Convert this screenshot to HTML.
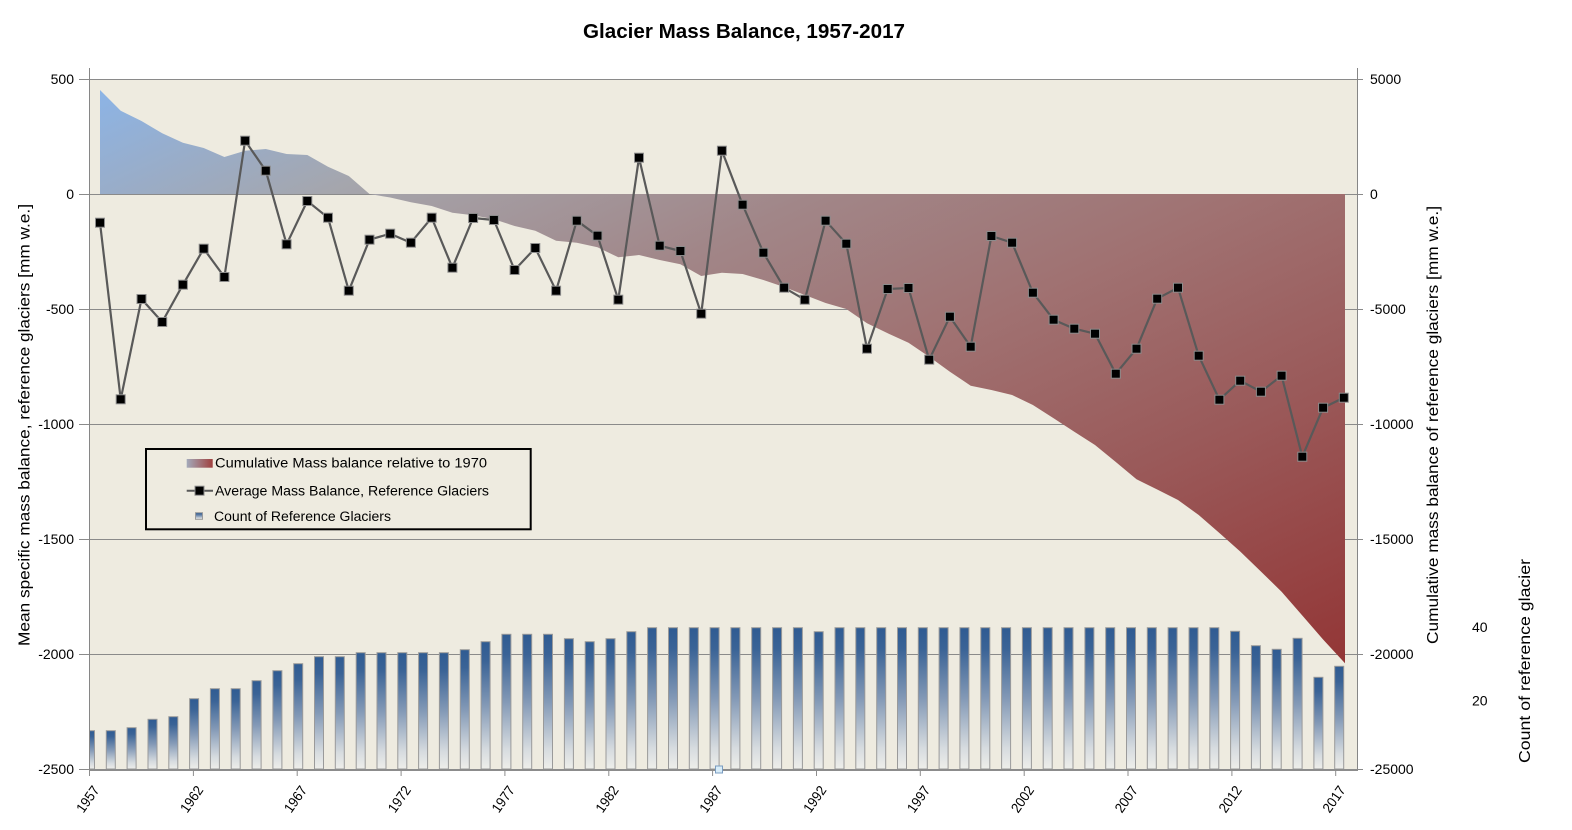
<!DOCTYPE html>
<html><head><meta charset="utf-8"><style>
html,body{margin:0;padding:0;background:#fff;}
svg{display:block;font-family:"Liberation Sans",sans-serif;}
</style></head><body>
<svg width="1572" height="830" viewBox="0 0 1572 830" xmlns="http://www.w3.org/2000/svg">
<defs>
<linearGradient id="ag" x1="0" y1="0" x2="1" y2="1">
<stop offset="0" stop-color="#8CB4E6"/>
<stop offset="0.18" stop-color="#A5A6AD"/>
<stop offset="0.38" stop-color="#A18688"/>
<stop offset="0.55" stop-color="#A07272"/>
<stop offset="0.75" stop-color="#9A5959"/>
<stop offset="1" stop-color="#933636"/>
</linearGradient>
<linearGradient id="bg" x1="0" y1="0" x2="0" y2="1">
<stop offset="0" stop-color="#2F5B92"/>
<stop offset="0.15" stop-color="#3A6396"/>
<stop offset="0.5" stop-color="#8399B6"/>
<stop offset="0.85" stop-color="#D6DBDF"/>
<stop offset="1" stop-color="#EEEEEA"/>
</linearGradient>
<linearGradient id="lg1" x1="0" y1="0" x2="1" y2="0">
<stop offset="0" stop-color="#A3AABB"/>
<stop offset="1" stop-color="#A0403E"/>
</linearGradient>
<clipPath id="pc"><rect x="89" y="68" width="1268" height="702"/></clipPath>
</defs>

<rect x="89" y="79" width="1268" height="690" fill="#EEEBE0"/>

<g stroke="#8A8A8A" stroke-width="1">
<line x1="79" y1="79.5" x2="1363" y2="79.5"/>
<line x1="79" y1="194.5" x2="1363" y2="194.5"/>
<line x1="79" y1="309.5" x2="1363" y2="309.5"/>
<line x1="79" y1="424.5" x2="1363" y2="424.5"/>
<line x1="79" y1="539.5" x2="1363" y2="539.5"/>
<line x1="79" y1="654.5" x2="1363" y2="654.5"/>
<line x1="79" y1="769.5" x2="89" y2="769.5"/>
<line x1="1357" y1="769.5" x2="1363" y2="769.5"/>
</g>

<g clip-path="url(#pc)" fill="url(#bg)" stroke="#9A9A9A" stroke-width="1">
<rect x="85.5" y="730.7" width="9" height="38.3"/>
<rect x="106.3" y="730.7" width="9" height="38.3"/>
<rect x="127.1" y="727.7" width="9" height="41.3"/>
<rect x="148.0" y="719.3" width="9" height="49.7"/>
<rect x="168.8" y="716.7" width="9" height="52.3"/>
<rect x="189.6" y="698.7" width="9" height="70.3"/>
<rect x="210.4" y="688.7" width="9" height="80.3"/>
<rect x="231.2" y="688.7" width="9" height="80.3"/>
<rect x="252.1" y="680.7" width="9" height="88.3"/>
<rect x="272.9" y="670.7" width="9" height="98.3"/>
<rect x="293.7" y="663.7" width="9" height="105.3"/>
<rect x="314.5" y="656.7" width="9" height="112.3"/>
<rect x="335.3" y="656.7" width="9" height="112.3"/>
<rect x="356.2" y="652.7" width="9" height="116.3"/>
<rect x="377.0" y="652.7" width="9" height="116.3"/>
<rect x="397.8" y="652.7" width="9" height="116.3"/>
<rect x="418.6" y="652.7" width="9" height="116.3"/>
<rect x="439.4" y="652.7" width="9" height="116.3"/>
<rect x="460.3" y="649.7" width="9" height="119.3"/>
<rect x="481.1" y="641.7" width="9" height="127.3"/>
<rect x="501.9" y="634.3" width="9" height="134.7"/>
<rect x="522.7" y="634.3" width="9" height="134.7"/>
<rect x="543.5" y="634.3" width="9" height="134.7"/>
<rect x="564.4" y="638.7" width="9" height="130.3"/>
<rect x="585.2" y="641.7" width="9" height="127.3"/>
<rect x="606.0" y="638.7" width="9" height="130.3"/>
<rect x="626.8" y="631.7" width="9" height="137.3"/>
<rect x="647.6" y="627.7" width="9" height="141.3"/>
<rect x="668.5" y="627.7" width="9" height="141.3"/>
<rect x="689.3" y="627.7" width="9" height="141.3"/>
<rect x="710.1" y="627.7" width="9" height="141.3"/>
<rect x="730.9" y="627.7" width="9" height="141.3"/>
<rect x="751.7" y="627.7" width="9" height="141.3"/>
<rect x="772.6" y="627.7" width="9" height="141.3"/>
<rect x="793.4" y="627.7" width="9" height="141.3"/>
<rect x="814.2" y="631.7" width="9" height="137.3"/>
<rect x="835.0" y="627.7" width="9" height="141.3"/>
<rect x="855.8" y="627.7" width="9" height="141.3"/>
<rect x="876.7" y="627.7" width="9" height="141.3"/>
<rect x="897.5" y="627.7" width="9" height="141.3"/>
<rect x="918.3" y="627.7" width="9" height="141.3"/>
<rect x="939.1" y="627.7" width="9" height="141.3"/>
<rect x="959.9" y="627.7" width="9" height="141.3"/>
<rect x="980.8" y="627.7" width="9" height="141.3"/>
<rect x="1001.6" y="627.7" width="9" height="141.3"/>
<rect x="1022.4" y="627.7" width="9" height="141.3"/>
<rect x="1043.2" y="627.7" width="9" height="141.3"/>
<rect x="1064.0" y="627.7" width="9" height="141.3"/>
<rect x="1084.9" y="627.7" width="9" height="141.3"/>
<rect x="1105.7" y="627.7" width="9" height="141.3"/>
<rect x="1126.5" y="627.7" width="9" height="141.3"/>
<rect x="1147.3" y="627.7" width="9" height="141.3"/>
<rect x="1168.1" y="627.7" width="9" height="141.3"/>
<rect x="1189.0" y="627.7" width="9" height="141.3"/>
<rect x="1209.8" y="627.7" width="9" height="141.3"/>
<rect x="1230.6" y="631.3" width="9" height="137.7"/>
<rect x="1251.4" y="645.7" width="9" height="123.3"/>
<rect x="1272.2" y="649.3" width="9" height="119.7"/>
<rect x="1293.1" y="638.3" width="9" height="130.7"/>
<rect x="1313.9" y="677.3" width="9" height="91.7"/>
<rect x="1334.7" y="666.3" width="9" height="102.7"/>
</g>

<polygon fill="url(#ag)" points="100,194 100,90 120.7,110.7 141.5,121 162.2,133.3 182.9,142.7 203.7,148 224.4,157 245.1,150.7 265.8,149 286.6,154 307.3,155 328,166.7 348.8,176 369.5,194 390.2,197.5 410.9,202.3 431.7,206 452.4,212.7 473.1,215.3 493.9,219.3 514.6,226 535.3,230.7 556.1,240.7 576.8,242.7 597.5,247.3 618.3,257.3 639,255 659.7,260 680.4,264.3 701.2,276 721.9,272.7 742.6,274 763.4,280 784.1,287 804.8,295 825.6,303 846.3,309 867,323.3 887.7,333.3 908.5,342.7 929.2,356.7 949.9,371.7 970.7,385.7 991.4,390 1012.1,395 1032.9,405 1053.6,418.3 1074.3,431.7 1095,445 1115.8,462 1136.5,479.3 1157.2,489.5 1178,500 1198.7,515 1219.4,533 1240.2,551.5 1260.9,571.5 1281.6,591.7 1302.3,615.5 1323.1,639.5 1345,663.3 1345,194"/>

<g stroke="#868686" stroke-width="1">
<line x1="89.5" y1="68" x2="89.5" y2="770"/>
<line x1="1357.5" y1="68" x2="1357.5" y2="770"/>
</g>
<line x1="89" y1="770" x2="1358" y2="770" stroke="#8C8C8C" stroke-width="2"/>
<g stroke="#8C8C8C" stroke-width="1">
<line x1="89.5" y1="770" x2="89.5" y2="776"/>
<line x1="193.4" y1="770" x2="193.4" y2="776"/>
<line x1="297.2" y1="770" x2="297.2" y2="776"/>
<line x1="401.1" y1="770" x2="401.1" y2="776"/>
<line x1="504.9" y1="770" x2="504.9" y2="776"/>
<line x1="608.8" y1="770" x2="608.8" y2="776"/>
<line x1="712.6" y1="770" x2="712.6" y2="776"/>
<line x1="816.5" y1="770" x2="816.5" y2="776"/>
<line x1="920.3" y1="770" x2="920.3" y2="776"/>
<line x1="1024.2" y1="770" x2="1024.2" y2="776"/>
<line x1="1128" y1="770" x2="1128" y2="776"/>
<line x1="1231.9" y1="770" x2="1231.9" y2="776"/>
<line x1="1335.7" y1="770" x2="1335.7" y2="776"/>
</g>
<rect x="715.5" y="766" width="7" height="7" fill="#D8ECF8" stroke="#7A9CC0" stroke-width="1"/>

<polyline fill="none" stroke="#595959" stroke-width="2.2" stroke-linejoin="round" points="100,222.7 120.7,399.3 141.5,299 162.2,322 182.9,284.7 203.7,248.7 224.4,277 245.1,140.7 265.8,170.7 286.6,244.3 307.3,201 328,217.7 348.8,290.7 369.5,239.7 390.2,233.7 410.9,242.7 431.7,217.7 452.4,267.7 473.1,218 493.9,220 514.6,270 535.3,248 556.1,290.7 576.8,220.7 597.5,235.7 618.3,299.7 639,157.7 659.7,245.7 680.4,251 701.2,313.7 721.9,150.7 742.6,204.7 763.4,252.7 784.1,287.7 804.8,299.7 825.6,220.7 846.3,243.7 867,348.7 887.7,289 908.5,288 929.2,359.7 949.9,316.7 970.7,346.7 991.4,236 1012.1,242.7 1032.9,292.7 1053.6,319.7 1074.3,328.7 1095,333.7 1115.8,373.7 1136.5,348.7 1157.2,298.7 1178,287.7 1198.7,355.7 1219.4,399.7 1240.2,380.7 1260.9,391.7 1281.6,375.7 1302.3,456.7 1323.1,407.7 1343.8,397.7"/>
<g fill="#000" stroke="#8C8C8C" stroke-width="1">
<rect x="95.5" y="218.2" width="9" height="9"/>
<rect x="116.2" y="394.8" width="9" height="9"/>
<rect x="137" y="294.5" width="9" height="9"/>
<rect x="157.7" y="317.5" width="9" height="9"/>
<rect x="178.4" y="280.2" width="9" height="9"/>
<rect x="199.2" y="244.2" width="9" height="9"/>
<rect x="219.9" y="272.5" width="9" height="9"/>
<rect x="240.6" y="136.2" width="9" height="9"/>
<rect x="261.3" y="166.2" width="9" height="9"/>
<rect x="282.1" y="239.8" width="9" height="9"/>
<rect x="302.8" y="196.5" width="9" height="9"/>
<rect x="323.5" y="213.2" width="9" height="9"/>
<rect x="344.3" y="286.2" width="9" height="9"/>
<rect x="365" y="235.2" width="9" height="9"/>
<rect x="385.7" y="229.2" width="9" height="9"/>
<rect x="406.4" y="238.2" width="9" height="9"/>
<rect x="427.2" y="213.2" width="9" height="9"/>
<rect x="447.9" y="263.2" width="9" height="9"/>
<rect x="468.6" y="213.5" width="9" height="9"/>
<rect x="489.4" y="215.5" width="9" height="9"/>
<rect x="510.1" y="265.5" width="9" height="9"/>
<rect x="530.8" y="243.5" width="9" height="9"/>
<rect x="551.6" y="286.2" width="9" height="9"/>
<rect x="572.3" y="216.2" width="9" height="9"/>
<rect x="593" y="231.2" width="9" height="9"/>
<rect x="613.8" y="295.2" width="9" height="9"/>
<rect x="634.5" y="153.2" width="9" height="9"/>
<rect x="655.2" y="241.2" width="9" height="9"/>
<rect x="675.9" y="246.5" width="9" height="9"/>
<rect x="696.7" y="309.2" width="9" height="9"/>
<rect x="717.4" y="146.2" width="9" height="9"/>
<rect x="738.1" y="200.2" width="9" height="9"/>
<rect x="758.9" y="248.2" width="9" height="9"/>
<rect x="779.6" y="283.2" width="9" height="9"/>
<rect x="800.3" y="295.2" width="9" height="9"/>
<rect x="821.1" y="216.2" width="9" height="9"/>
<rect x="841.8" y="239.2" width="9" height="9"/>
<rect x="862.5" y="344.2" width="9" height="9"/>
<rect x="883.2" y="284.5" width="9" height="9"/>
<rect x="904" y="283.5" width="9" height="9"/>
<rect x="924.7" y="355.2" width="9" height="9"/>
<rect x="945.4" y="312.2" width="9" height="9"/>
<rect x="966.2" y="342.2" width="9" height="9"/>
<rect x="986.9" y="231.5" width="9" height="9"/>
<rect x="1007.6" y="238.2" width="9" height="9"/>
<rect x="1028.4" y="288.2" width="9" height="9"/>
<rect x="1049.1" y="315.2" width="9" height="9"/>
<rect x="1069.8" y="324.2" width="9" height="9"/>
<rect x="1090.5" y="329.2" width="9" height="9"/>
<rect x="1111.3" y="369.2" width="9" height="9"/>
<rect x="1132" y="344.2" width="9" height="9"/>
<rect x="1152.7" y="294.2" width="9" height="9"/>
<rect x="1173.5" y="283.2" width="9" height="9"/>
<rect x="1194.2" y="351.2" width="9" height="9"/>
<rect x="1214.9" y="395.2" width="9" height="9"/>
<rect x="1235.7" y="376.2" width="9" height="9"/>
<rect x="1256.4" y="387.2" width="9" height="9"/>
<rect x="1277.1" y="371.2" width="9" height="9"/>
<rect x="1297.8" y="452.2" width="9" height="9"/>
<rect x="1318.6" y="403.2" width="9" height="9"/>
<rect x="1339.3" y="393.2" width="9" height="9"/>
</g>

<text x="744" y="38" text-anchor="middle" font-size="20" font-weight="bold" textLength="322" lengthAdjust="spacingAndGlyphs">Glacier Mass Balance, 1957-2017</text>

<g font-size="14" text-anchor="end" fill="#000">
<text x="74" y="84">500</text>
<text x="74" y="199">0</text>
<text x="74" y="314">-500</text>
<text x="74" y="429">-1000</text>
<text x="74" y="544">-1500</text>
<text x="74" y="659">-2000</text>
<text x="74" y="774">-2500</text>
</g>
<g font-size="14" fill="#000">
<text x="1370" y="84">5000</text>
<text x="1370" y="199">0</text>
<text x="1370" y="314">-5000</text>
<text x="1370" y="429">-10000</text>
<text x="1370" y="544">-15000</text>
<text x="1370" y="659">-20000</text>
<text x="1370" y="774">-25000</text>
</g>
<g font-size="14" fill="#000">
<text x="1472" y="632">40</text>
<text x="1472" y="705.5">20</text>
</g>

<text transform="translate(29.5,425) rotate(-90)" text-anchor="middle" font-size="16" textLength="442" lengthAdjust="spacingAndGlyphs">Mean specific mass balance, reference glaciers [mm w.e.]</text>
<text transform="translate(1438,425) rotate(-90)" text-anchor="middle" font-size="16" textLength="438" lengthAdjust="spacingAndGlyphs">Cumulative mass balance of reference glaciers [mm w.e.]</text>
<text transform="translate(1530,661) rotate(-90)" text-anchor="middle" font-size="16" textLength="204" lengthAdjust="spacingAndGlyphs">Count of reference glacier</text>

<g font-size="14" text-anchor="end" fill="#000">
<text transform="translate(100,790) rotate(-55)" textLength="29" lengthAdjust="spacingAndGlyphs">1957</text>
<text transform="translate(203.9,790) rotate(-55)" textLength="29" lengthAdjust="spacingAndGlyphs">1962</text>
<text transform="translate(307.7,790) rotate(-55)" textLength="29" lengthAdjust="spacingAndGlyphs">1967</text>
<text transform="translate(411.6,790) rotate(-55)" textLength="29" lengthAdjust="spacingAndGlyphs">1972</text>
<text transform="translate(515.4,790) rotate(-55)" textLength="29" lengthAdjust="spacingAndGlyphs">1977</text>
<text transform="translate(619.3,790) rotate(-55)" textLength="29" lengthAdjust="spacingAndGlyphs">1982</text>
<text transform="translate(723.1,790) rotate(-55)" textLength="29" lengthAdjust="spacingAndGlyphs">1987</text>
<text transform="translate(827,790) rotate(-55)" textLength="29" lengthAdjust="spacingAndGlyphs">1992</text>
<text transform="translate(930.8,790) rotate(-55)" textLength="29" lengthAdjust="spacingAndGlyphs">1997</text>
<text transform="translate(1034.7,790) rotate(-55)" textLength="29" lengthAdjust="spacingAndGlyphs">2002</text>
<text transform="translate(1138.5,790) rotate(-55)" textLength="29" lengthAdjust="spacingAndGlyphs">2007</text>
<text transform="translate(1242.4,790) rotate(-55)" textLength="29" lengthAdjust="spacingAndGlyphs">2012</text>
<text transform="translate(1346.2,790) rotate(-55)" textLength="29" lengthAdjust="spacingAndGlyphs">2017</text>
</g>

<rect x="146" y="449" width="384.7" height="80.3" fill="#EEEBE0" stroke="#000" stroke-width="2"/>
<rect x="186.7" y="459" width="26" height="8.7" fill="url(#lg1)"/>
<line x1="186.7" y1="490.7" x2="213" y2="490.7" stroke="#595959" stroke-width="2"/>
<rect x="195" y="486.2" width="9" height="9" fill="#000" stroke="#8C8C8C" stroke-width="1"/>
<rect x="195.5" y="512.7" width="7" height="6.6" fill="url(#bg)" stroke="#9A9A9A" stroke-width="1"/>
<g font-size="13.5" fill="#000">
<text x="215" y="467.7" textLength="272" lengthAdjust="spacingAndGlyphs">Cumulative Mass balance relative to 1970</text>
<text x="215" y="495.7" textLength="274" lengthAdjust="spacingAndGlyphs">Average Mass Balance, Reference Glaciers</text>
<text x="214" y="521" textLength="177" lengthAdjust="spacingAndGlyphs">Count of Reference Glaciers</text>
</g>
</svg>
</body></html>
